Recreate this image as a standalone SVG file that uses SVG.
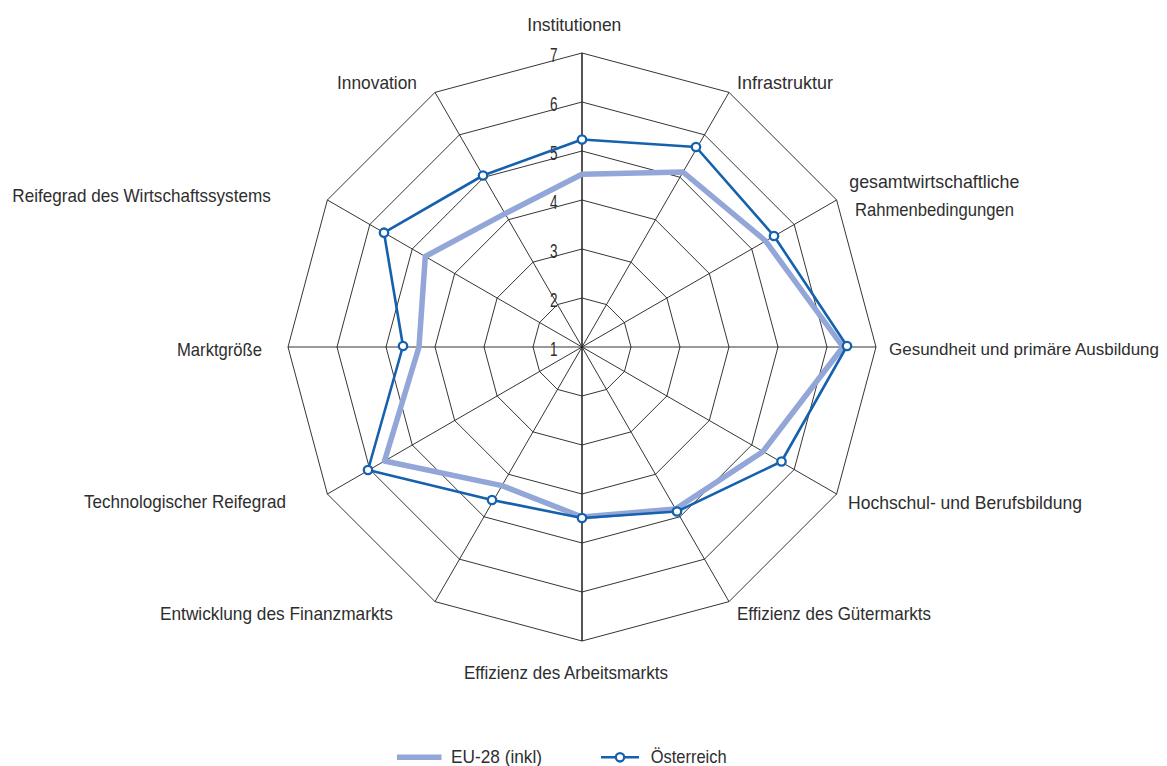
<svg xmlns="http://www.w3.org/2000/svg" width="1167" height="766" viewBox="0 0 1167 766">
<style>
text{font-family:"Liberation Sans",Arial,sans-serif;font-size:19px;fill:#2e2e2e}
.num{font-size:20px}
.ring{fill:none;stroke:#1e1e1e;stroke-width:0.9}
.ax{stroke:#1e1e1e;stroke-width:0.9}
.vax{stroke:#2a2a2a;stroke-width:1.6}
.eu{fill:none;stroke:#93a6d8;stroke-width:5.5;stroke-linejoin:round}
.at{fill:none;stroke:#1661ad;stroke-width:2.6;stroke-linejoin:round}
.mk{fill:#fff;stroke:#1661ad;stroke-width:2.3}
</style>
<rect width="1167" height="766" fill="#fff"/>
<g id="grid">
<polygon class="ring" points="582,298 606.5,304.57 624.43,322.5 631,347 624.43,371.5 606.5,389.43 582,396 557.5,389.43 539.57,371.5 533,347 539.57,322.5 557.5,304.57"/>
<polygon class="ring" points="582,249 631,262.13 666.87,298 680,347 666.87,396 631,431.87 582,445 533,431.87 497.13,396 484,347 497.13,298 533,262.13"/>
<polygon class="ring" points="582,200 655.5,219.69 709.31,273.5 729,347 709.31,420.5 655.5,474.31 582,494 508.5,474.31 454.69,420.5 435,347 454.69,273.5 508.5,219.69"/>
<polygon class="ring" points="582,151 680,177.26 751.74,249 778,347 751.74,445 680,516.74 582,543 484,516.74 412.26,445 386,347 412.26,249 484,177.26"/>
<polygon class="ring" points="582,102 704.5,134.82 794.18,224.5 827,347 794.18,469.5 704.5,559.18 582,592 459.5,559.18 369.82,469.5 337,347 369.82,224.5 459.5,134.82"/>
<polygon class="ring" points="582,53 729,92.39 836.61,200 876,347 836.61,494 729,601.61 582,641 435,601.61 327.39,494 288,347 327.39,200 435,92.39"/>
<line class="ax" x1="582" y1="347" x2="729" y2="92.39"/>
<line class="ax" x1="582" y1="347" x2="836.61" y2="200"/>
<line class="ax" x1="582" y1="347" x2="876" y2="347"/>
<line class="ax" x1="582" y1="347" x2="836.61" y2="494"/>
<line class="ax" x1="582" y1="347" x2="729" y2="601.61"/>
<line class="ax" x1="582" y1="347" x2="435" y2="601.61"/>
<line class="ax" x1="582" y1="347" x2="327.39" y2="494"/>
<line class="ax" x1="582" y1="347" x2="288" y2="347"/>
<line class="ax" x1="582" y1="347" x2="327.39" y2="200"/>
<line class="ax" x1="582" y1="347" x2="435" y2="92.39"/>
<line class="vax" x1="582" y1="53" x2="582" y2="641"/>
</g>
<g id="scale">
<text class="num" x="550" y="62" textLength="7.5" lengthAdjust="spacingAndGlyphs">7</text>
<text class="num" x="550" y="111" textLength="7.5" lengthAdjust="spacingAndGlyphs">6</text>
<text class="num" x="550" y="159.5" textLength="7.5" lengthAdjust="spacingAndGlyphs">5</text>
<text class="num" x="550" y="209" textLength="7.5" lengthAdjust="spacingAndGlyphs">4</text>
<text class="num" x="550" y="257.5" textLength="7.5" lengthAdjust="spacingAndGlyphs">3</text>
<text class="num" x="550" y="307" textLength="7.5" lengthAdjust="spacingAndGlyphs">2</text>
<text class="num" x="550" y="356" textLength="7.5" lengthAdjust="spacingAndGlyphs">1</text>
</g>
<g id="connectors">
<polygon id="series-eu" class="eu" points="582,174.3 683,172 765.6,241 843,347 763,451.5 675.5,509 582,517 502,485.6 384.5,461 419,347 425.3,256.5 505,213.6"/>
<polygon id="series-at" class="at" points="582,139.5 696,147 774,236 847,346 781.5,461.5 677,511.5 582,518 492,500 368,470 403,346 384,232.7 483,175.5"/>
</g>
<g id="markers">
<circle class="mk" cx="582" cy="139.5" r="4.2"/>
<circle class="mk" cx="696" cy="147" r="4.2"/>
<circle class="mk" cx="774" cy="236" r="4.2"/>
<circle class="mk" cx="847" cy="346" r="4.2"/>
<circle class="mk" cx="781.5" cy="461.5" r="4.2"/>
<circle class="mk" cx="677" cy="511.5" r="4.2"/>
<circle class="mk" cx="582" cy="518" r="4.2"/>
<circle class="mk" cx="492" cy="500" r="4.2"/>
<circle class="mk" cx="368" cy="470" r="4.2"/>
<circle class="mk" cx="403" cy="346" r="4.2"/>
<circle class="mk" cx="384" cy="232.7" r="4.2"/>
<circle class="mk" cx="483" cy="175.5" r="4.2"/>
</g>
<g id="label-institutionen"><text x="527.3" y="30.5" textLength="94" lengthAdjust="spacingAndGlyphs">Institutionen</text></g>
<g id="label-infrastruktur"><text x="737" y="89" textLength="96" lengthAdjust="spacingAndGlyphs">Infrastruktur</text></g>
<g id="label-rahmen">
<text x="849.3" y="188" textLength="170" lengthAdjust="spacingAndGlyphs">gesamtwirtschaftliche</text>
<text x="855" y="216" textLength="159" lengthAdjust="spacingAndGlyphs">Rahmenbedingungen</text>
</g>
<g id="label-gesundheit"><text x="889" y="355" font-size="17" style="font-size:17px" textLength="270" lengthAdjust="spacingAndGlyphs">Gesundheit und primäre Ausbildung</text></g>
<g id="label-hochschul"><text x="848" y="509" textLength="234" lengthAdjust="spacingAndGlyphs">Hochschul- und Berufsbildung</text></g>
<g id="label-guetermarkt"><text x="737" y="620" textLength="194" lengthAdjust="spacingAndGlyphs">Effizienz des Gütermarkts</text></g>
<g id="label-arbeitsmarkt"><text x="464" y="679" textLength="204" lengthAdjust="spacingAndGlyphs">Effizienz des Arbeitsmarkts</text></g>
<g id="label-finanzmarkt"><text x="160" y="620" textLength="233" lengthAdjust="spacingAndGlyphs">Entwicklung des Finanzmarkts</text></g>
<g id="label-technologie"><text x="84" y="508" textLength="202" lengthAdjust="spacingAndGlyphs">Technologischer Reifegrad</text></g>
<g id="label-marktgroesse"><text x="177" y="356" textLength="85" lengthAdjust="spacingAndGlyphs">Marktgröße</text></g>
<g id="label-reifegrad"><text x="12.3" y="201.5" textLength="258.4" lengthAdjust="spacingAndGlyphs">Reifegrad des Wirtschaftssystems</text></g>
<g id="label-innovation"><text x="337" y="89" textLength="80" lengthAdjust="spacingAndGlyphs">Innovation</text></g>
<g id="legend">
<line x1="397" y1="757.3" x2="441.5" y2="757.3" stroke="#93a6d8" stroke-width="5.5"/>
<text x="451" y="763" textLength="91" lengthAdjust="spacingAndGlyphs">EU-28 (inkl)</text>
<line x1="601" y1="757.3" x2="639" y2="757.3" stroke="#1661ad" stroke-width="2.6"/>
<circle class="mk" cx="620" cy="757.3" r="4.2"/>
<text x="650.7" y="763" textLength="76" lengthAdjust="spacingAndGlyphs">Österreich</text>
</g>
</svg>
